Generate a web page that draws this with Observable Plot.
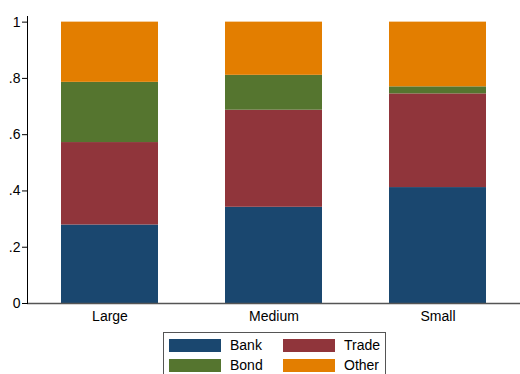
<!DOCTYPE html>
<html>
<head>
<meta charset="utf-8">
<script src="https://cdn.jsdelivr.net/npm/d3@7"></script>
<script src="https://cdn.jsdelivr.net/npm/@observablehq/plot@0.6"></script>
<style>
  html, body { margin: 0; padding: 0; background: #fff; }
  #wrap { position: relative; width: 520px; height: 374px; overflow: hidden; font-family: "Liberation Sans", Arial, sans-serif; }
  #legend { position: absolute; left: 163px; top: 332px; width: 223px; height: 60px; border: 1px solid #555; box-sizing: border-box; }
  .item { position: absolute; display: flex; align-items: center; font-size: 14px; color: #000; }
  .sw { width: 52px; height: 13px; margin-right: 9px; }
</style>
</head>
<body>
<div id="wrap"></div>
<script>
const categories = ["Large", "Medium", "Small"];
const series = ["Bank", "Trade", "Bond", "Other"];
const bank  = [0.279, 0.342, 0.412];
const trade = [0.293, 0.345, 0.333];
const bond  = [0.214, 0.124, 0.025];
const other = [0.214, 0.189, 0.230];
const colors = ["#1a476f", "#90353b", "#55752f", "#e37e00"];
const yTicks = [0, 0.2, 0.4, 0.6, 0.8, 1];

const values = {Bank: bank, Trade: trade, Bond: bond, Other: other};
const data = [];
categories.forEach((c, i) => series.forEach(s => data.push({cat: c, series: s, value: values[s][i]})));

const fmt = d => d === 0 ? "0" : d === 1 ? "1" : String(+d.toFixed(1)).replace("0.", ".");

const chart = Plot.plot({
  width: 520,
  height: 328,
  marginLeft: 27,
  marginRight: 0,
  marginTop: 16,
  marginBottom: 25,
  style: {fontFamily: "Liberation Sans, Arial, sans-serif", fontSize: "14px", color: "#000", background: "#fff"},
  x: {domain: categories, paddingInner: 0.406, paddingOuter: 0.2, label: null},
  y: {domain: [0, 1.02], label: null},
  color: {domain: series, range: colors},
  marks: [
    Plot.barY(data, Plot.stackY({x: "cat", y: "value", fill: "series", order: null})),
    Plot.ruleY([0], {stroke: "#555", strokeWidth: 1.5}),
    Plot.frame({anchor: "left", stroke: "#000", strokeWidth: 1}),
    Plot.axisY({ticks: yTicks, tickFormat: fmt, tickSize: 5, tickPadding: 2, stroke: "#000", label: null}),
    Plot.axisX({tickSize: 0, tickPadding: 8, label: null})
  ]
});
document.getElementById("wrap").appendChild(chart);

const legend = document.createElement("div");
legend.id = "legend";
const pos = [[5, 4], [119, 4], [5, 24], [119, 24]];
series.forEach((s, i) => {
  const it = document.createElement("div");
  it.className = "item";
  it.style.left = pos[i][0] + "px";
  it.style.top = pos[i][1] + "px";
  const sw = document.createElement("div");
  sw.className = "sw";
  sw.style.background = colors[i];
  const t = document.createElement("span");
  t.textContent = s;
  it.appendChild(sw);
  it.appendChild(t);
  legend.appendChild(it);
});
document.getElementById("wrap").appendChild(legend);
</script>
</body>
</html>
